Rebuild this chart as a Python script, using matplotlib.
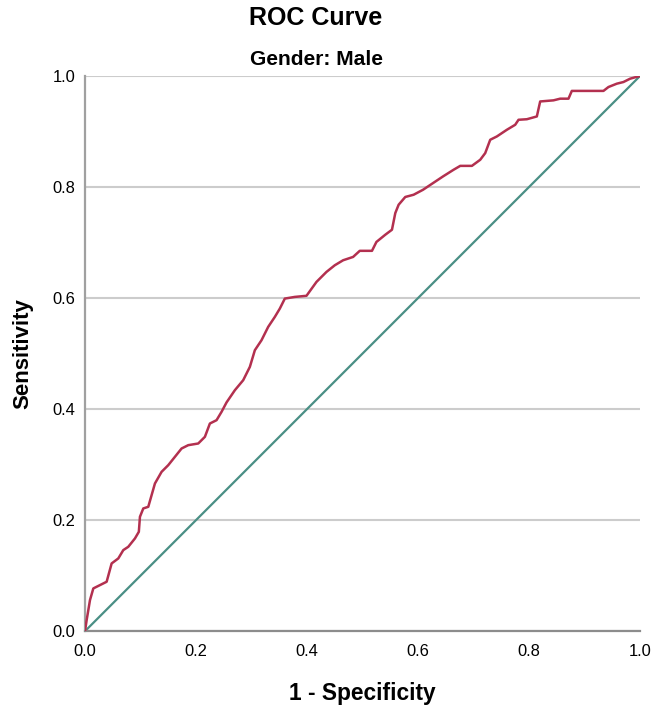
import matplotlib
matplotlib.use("Agg")
import matplotlib.pyplot as plt
from matplotlib import font_manager

# ROC curve points (1 - specificity, sensitivity)
fpr = [0.0, 0.003, 0.009, 0.015, 0.027, 0.039, 0.048, 0.060, 0.069, 0.078,
       0.090, 0.097, 0.099, 0.105, 0.114, 0.126, 0.138, 0.150, 0.162, 0.174,
       0.186, 0.204, 0.216, 0.225, 0.237, 0.246, 0.255, 0.270, 0.285, 0.297,
       0.306, 0.318, 0.330, 0.342, 0.351, 0.360, 0.378, 0.399, 0.417, 0.435,
       0.450, 0.465, 0.483, 0.495, 0.517, 0.525, 0.541, 0.553, 0.559, 0.565,
       0.577, 0.592, 0.609, 0.627, 0.645, 0.664, 0.676, 0.697, 0.712, 0.721,
       0.730, 0.742, 0.760, 0.775, 0.781, 0.796, 0.814, 0.820, 0.844, 0.856,
       0.871, 0.877, 0.904, 0.934, 0.943, 0.958, 0.970, 0.982, 1.0]
tpr = [0.0, 0.020, 0.056, 0.077, 0.083, 0.089, 0.122, 0.131, 0.146, 0.152,
       0.167, 0.179, 0.206, 0.221, 0.224, 0.266, 0.287, 0.299, 0.314, 0.329,
       0.335, 0.338, 0.350, 0.374, 0.380, 0.395, 0.412, 0.434, 0.452, 0.476,
       0.506, 0.524, 0.548, 0.566, 0.581, 0.599, 0.602, 0.604, 0.629, 0.647,
       0.659, 0.668, 0.674, 0.685, 0.685, 0.701, 0.714, 0.723, 0.753, 0.768,
       0.782, 0.786, 0.795, 0.807, 0.819, 0.831, 0.838, 0.838, 0.849, 0.861,
       0.885, 0.891, 0.903, 0.912, 0.921, 0.922, 0.927, 0.954, 0.956, 0.959,
       0.959, 0.973, 0.973, 0.973, 0.980, 0.986, 0.989, 0.995, 1.0]
ref_line = [0.0, 1.0]
ticks = [0.0, 0.2, 0.4, 0.6, 0.8, 1.0]

# narrow sans if installed, else regular
try:
    font_manager.findfont(font_manager.FontProperties(family="Liberation Sans Narrow"),
                          fallback_to_default=False)
    fam = "Liberation Sans Narrow"
    k = 1.0
except Exception:
    fam = "Liberation Sans"
    k = 0.82
plt.rcParams["font.family"] = [fam, "DejaVu Sans"]

fig = plt.figure(figsize=(6.64, 7.23), dpi=100)
ax = fig.add_axes([0.128, 0.127, 0.836, 0.768])

ax.plot(ref_line, ref_line, color="#4a8f85", lw=1.6, zorder=2)
ax.plot(fpr, tpr, color="#b3304f", lw=1.8, zorder=3, solid_joinstyle="round")

ax.set_xlim(0, 1)
ax.set_ylim(0, 1)
ax.set_xticks(ticks)
ax.set_yticks(ticks)
ax.set_xticklabels([f"{t:.1f}" for t in ticks])
ax.set_yticklabels([f"{t:.1f}" for t in ticks])
ax.tick_params(length=0, labelsize=14.5 * k, colors="#000000")
ax.tick_params(axis="x", pad=9)
ax.tick_params(axis="y", pad=7)

ax.yaxis.grid(True, color="#cccccc", lw=1.5)
ax.set_axisbelow(True)
for s in ["top", "right"]:
    ax.spines[s].set_visible(False)
ax.spines["left"].set_color("#a0a0a0")
ax.spines["left"].set_linewidth(1.6)
ax.spines["bottom"].set_color("#8c8c8c")
ax.spines["bottom"].set_linewidth(1.6)

ax.set_xlabel("1 - Specificity", fontsize=20 * k, fontweight="bold", labelpad=17)
ax.set_ylabel("Sensitivity", fontsize=19.5 * k, fontweight="bold", labelpad=14)

fig.text(0.476, 0.975, "ROC Curve", ha="center", va="center",
         fontsize=22 * k, fontweight="bold")
fig.text(0.476, 0.918, "Gender: Male", ha="center", va="center",
         fontsize=18.5 * k, fontweight="bold")

fig.savefig("out.png", dpi=100)
